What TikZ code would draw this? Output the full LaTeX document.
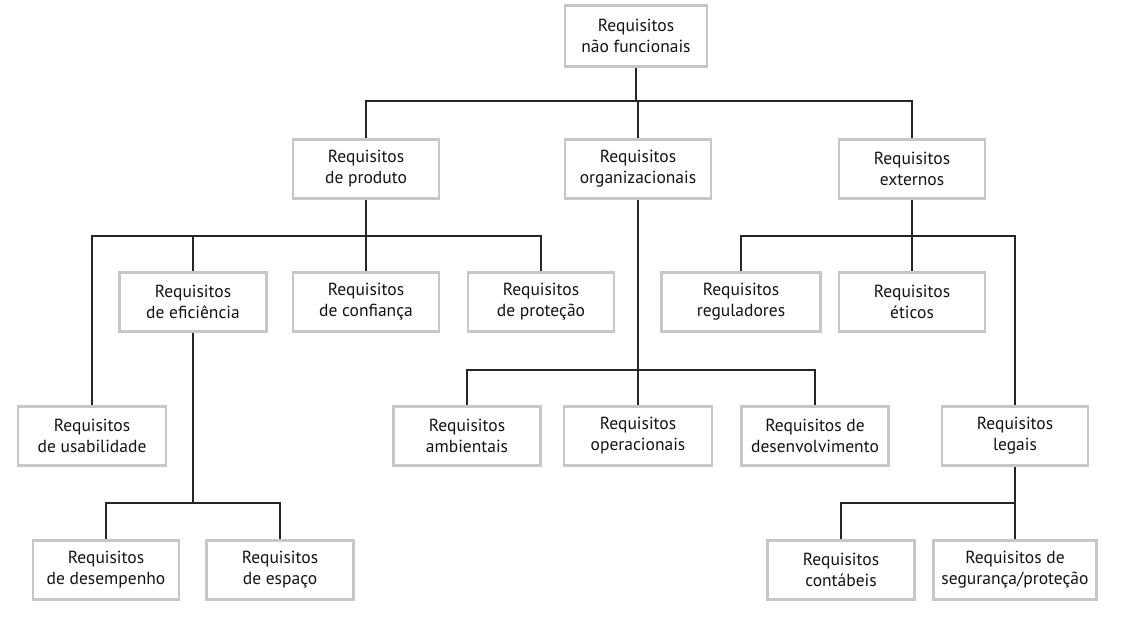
\documentclass[tikz,border=0pt]{standalone}
\usepackage{fontspec}
\setmainfont{PT Sans}
\usetikzlibrary{backgrounds}
\begin{document}
\begin{tikzpicture}[x=1pt,y=-1pt,
  reqbox/.style={draw=black!22, line width=2.6pt, fill=white, align=center,
    minimum width=146pt, minimum height=59pt, inner sep=2pt,
    text=black!92, font=\fontsize{17.5}{21}\selectfont},
  link/.style={draw=black!85, line width=1.2pt}]
\useasboundingbox (0,0) rectangle (1122,616);

% level 0
\node[reqbox, minimum width=142pt, minimum height=61pt] (root) at (636,36) {Requisitos\\não funcionais};

% level 1
\node[reqbox] (prod) at (366,169) {Requisitos\\de produto};
\node[reqbox] (org)  at (638,169) {Requisitos\\organizacionais};
\node[reqbox] (ext)  at (912,169) {Requisitos\\externos};

% level 2
\node[reqbox, minimum width=147pt] (efic) at (193,302) {Requisitos\\de eficiência};
\node[reqbox] (conf) at (366,302) {Requisitos\\de confiança};
\node[reqbox] (prot) at (541,302) {Requisitos\\de proteção};
\node[reqbox, minimum width=159pt] (reg) at (741,302) {Requisitos\\reguladores};
\node[reqbox] (etic) at (912,302) {Requisitos\\éticos};

% level 3
\node[reqbox, minimum width=148pt] (usab) at (92,436) {Requisitos\\de usabilidade};
\node[reqbox, minimum width=147pt] (amb)  at (467,436) {Requisitos\\ambientais};
\node[reqbox, minimum width=148pt] (oper) at (638,436) {Requisitos\\operacionais};
\node[reqbox, minimum width=147pt] (desv) at (815,436) {Requisitos de\\desenvolvimento};
\node[reqbox] (leg)  at (1015,436) {Requisitos\\legais};

% level 4
\node[reqbox] (desemp) at (106,570) {Requisitos\\de desempenho};
\node[reqbox, minimum width=147pt] (espaco) at (280,570) {Requisitos\\de espaço};
\node[reqbox, minimum width=147pt] (cont)   at (841,570) {Requisitos\\contábeis};
\node[reqbox, minimum width=163pt] (seg)    at (1015,570) {Requisitos de\\segurança/proteção};

% heights of the horizontal bus lines
\coordinate (busA) at (0,101);
\coordinate (busB) at (0,236);
\coordinate (busC) at (0,370);
\coordinate (busD) at (0,503);

\begin{pgfonlayer}{background}
  % root to level 1
  \draw[link] (root.south) -- (root.south |- busA);
  \draw[link] (prod.north) |- (ext.north |- busA) -- (ext.north);
  \draw[link] (org.north) -- (org.north |- busA);
  % product requirements
  \draw[link] (prod.south) -- (prod.south |- busB);
  \draw[link] (usab.north) |- (prot.north |- busB) -- (prot.north);
  \draw[link] (efic.north) -- (efic.north |- busB);
  \draw[link] (conf.north) -- (conf.north |- busB);
  % external requirements
  \draw[link] (ext.south) -- (ext.south |- busB);
  \draw[link] (reg.north) |- (leg.north |- busB) -- (leg.north);
  \draw[link] (etic.north) -- (etic.north |- busB);
  % organisational requirements
  \draw[link] (org.south) -- (oper.north);
  \draw[link] (amb.north) |- (desv.north |- busC) -- (desv.north);
  % efficiency requirements
  \draw[link] (efic.south) -- (efic.south |- busD);
  \draw[link] (desemp.north) |- (espaco.north |- busD) -- (espaco.north);
  % legal requirements
  \draw[link] (leg.south) -- (seg.north);
  \draw[link] (cont.north) |- (seg.north |- busD);
\end{pgfonlayer}
\end{tikzpicture}
\end{document}
